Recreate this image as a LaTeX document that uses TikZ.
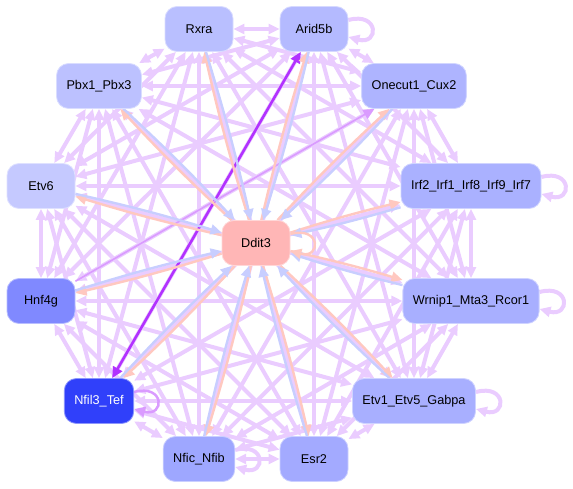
\documentclass[tikz,border=0pt]{standalone}
\usepackage{fontspec}
\setmainfont{Liberation Sans}
\usetikzlibrary{arrows.meta,backgrounds}

\definecolor{cRxra}{RGB}{185,191,255}
\definecolor{cArid}{RGB}{180,186,255}
\definecolor{cPbx}{RGB}{188,193,255}
\definecolor{cOnecut}{RGB}{174,180,255}
\definecolor{cEtvsix}{RGB}{197,201,255}
\definecolor{cIrf}{RGB}{170,177,255}
\definecolor{cDdit}{RGB}{255,182,182}
\definecolor{cHnf}{RGB}{128,137,255}
\definecolor{cWrnip}{RGB}{168,175,255}
\definecolor{cNfil}{RGB}{48,64,250}
\definecolor{cEtvone}{RGB}{168,175,255}
\definecolor{cNfic}{RGB}{158,167,255}
\definecolor{cEsr}{RGB}{163,170,255}
\definecolor{lav}{RGB}{234,204,255}
\definecolor{pinkedge}{RGB}{255,200,192}
\definecolor{blueedge}{RGB}{200,206,255}
\definecolor{strongpurple}{RGB}{178,50,255}
\definecolor{midpurple}{RGB}{218,155,255}

\begin{document}
\begin{tikzpicture}[
    x=1pt, y=-1pt,
    >={Triangle[length=11pt,width=10pt]},
    font=\fontsize{12.7}{15}\selectfont,
    gene/.style={rectangle, rounded corners=12pt, minimum width=68pt,
        minimum height=45pt, inner xsep=10pt, fill=#1,
        draw=#1!55!white, line width=0.8pt},
    link/.style={draw=lav, line width=4pt},
    dlink/.style={draw=pinkedge, line width=2.4pt},
    ulink/.style={draw=blueedge, line width=2.4pt}
]
    \useasboundingbox (0,0) rectangle (573,489);

    % Genes on the ring
    \node[gene=cRxra]   (rx)   at (199, 29)  {Rxra};
    \node[gene=cArid]   (ar)   at (314, 29)  {Arid5b};
    \node[gene=cOnecut] (oc)   at (414, 86)  {Onecut1\_Cux2};
    \node[gene=cIrf]    (irf)  at (471, 186) {Irf2\_Irf1\_Irf8\_Irf9\_Irf7};
    \node[gene=cWrnip]  (wr)   at (471, 301) {Wrnip1\_Mta3\_Rcor1};
    \node[gene=cEtvone] (eone) at (414, 401) {Etv1\_Etv5\_Gabpa};
    \node[gene=cEsr]    (esr)  at (314, 459) {Esr2};
    \node[gene=cNfic]   (nfic) at (199, 459) {Nfic\_Nfib};
    \node[gene=cNfil, text=white] (nfil) at (99, 401) {Nfil3\_Tef};
    \node[gene=cHnf]    (hnf)  at (41, 301)  {Hnf4g};
    \node[gene=cEtvsix] (esix) at (41, 186)  {Etv6};
    \node[gene=cPbx]    (pbx)  at (99, 86)   {Pbx1\_Pbx3};

    % Centre gene
    \node[gene=cDdit]   (dd)   at (256, 243) {Ddit3};

    \begin{scope}[on background layer]
    % Ring links, every pair
    \foreach \a [count=\i] in {rx,ar,oc,irf,wr,eone,esr,nfic,nfil,hnf,esix,pbx} {
        \foreach \b [count=\j] in {rx,ar,oc,irf,wr,eone,esr,nfic,nfil,hnf,esix,pbx} {
            \ifnum\j>\i \draw[link,<->] (\a) -- (\b); \fi
        }
    }

    % Self loops
    \foreach \g in {ar,irf,wr,eone,nfic}
        \draw[link,->] ([yshift=9pt]\g.east) to[out=15,in=-15,distance=32pt] ([yshift=-8pt]\g.east);

    % Strong links
    \draw[strongpurple, line width=2.6pt, <->] (nfil) -- (ar);
    \draw[midpurple, line width=1.6pt, ->] (hnf) -- (oc);
    \draw[midpurple, line width=2.5pt, ->] ([yshift=9pt]nfil.east) to[out=15,in=-15,distance=32pt] ([yshift=-8pt]nfil.east);

    % Links with Ddit3
    \foreach \g in {rx,ar,oc,irf,wr,eone,esr,nfic,nfil,hnf,esix,pbx} {
        \draw[dlink,->] (dd) to[bend left=2] (\g);
        \draw[ulink,->] (\g) to[bend left=2] (dd);
    }
    \draw[dlink,->] ([yshift=9pt]dd.east) to[out=15,in=-15,distance=32pt] ([yshift=-8pt]dd.east);
    \end{scope}

\end{tikzpicture}
\end{document}
